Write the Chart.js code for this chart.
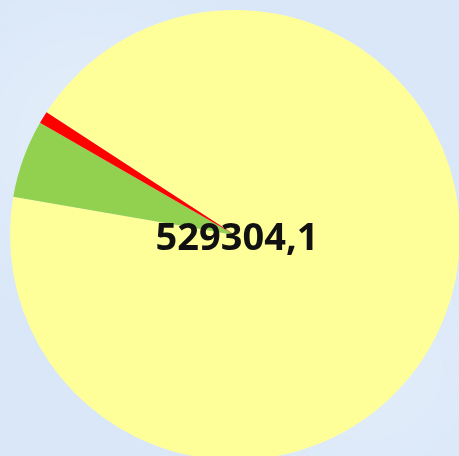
<head>
    <meta charset="utf-8">
    <title>Pie</title>
    <style>
        html, body { margin: 0; padding: 0; overflow: hidden; }
        body {
            width: 459px; height: 456px;
            background-color: #d9e7f8;
            background-image:
                radial-gradient(circle at 20% 30%, rgba(255,255,255,0.3) 0, rgba(255,255,255,0) 40%),
                radial-gradient(circle at 80% 80%, rgba(255,255,255,0.25) 0, rgba(255,255,255,0) 35%);
        }
        .PieBox { position: absolute; left: 0; top: 0; width: 470px; height: 470px; }
    </style>
</head>
<body>
    <div class="PieBox">
        <canvas id="myChart"></canvas>
    </div>

    <script src="https://cdn.jsdelivr.net/npm/chart.js"></script>
    <script>
      const labels = ['A', 'B', 'C'];
      const values = [495018.1, 29611, 4675];
      const colors = ['#ffff99', '#92d050', '#ff0000'];
      const totalText = '529304,1';

      const centerText = { // draws the total in the middle
        id: 'centerText',
        afterDraw(chart) {
          const ctx = chart.ctx;
          ctx.save();
          ctx.font = 'bold 38px "Noto Sans"';
          ctx.fillStyle = '#111111';
          ctx.textAlign = 'center';
          ctx.textBaseline = 'middle';
          ctx.fillText(totalText, 237, 239);
          ctx.restore();
        }
      };

      const ctx = document.getElementById('myChart');
      new Chart(ctx, {
        type: 'pie',
        data: {
          labels: labels,
          datasets: [{
            data: values,
            backgroundColor: colors,
            borderWidth: 0
          }]
        },
        options: {
          responsive: true,
          maintainAspectRatio: false,
          animation: false,
          rotation: 303.1,
          layout: { padding: 10 },
          plugins: {
            legend: { display: false },
            tooltip: { enabled: false }
          }
        },
        plugins: [centerText]
      });
    </script>
</body>
